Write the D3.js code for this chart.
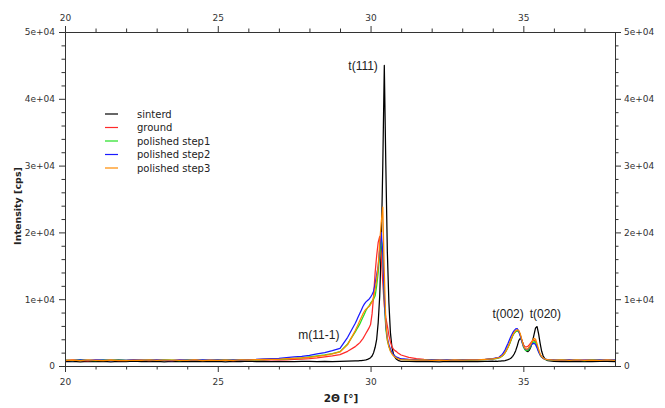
<!DOCTYPE html>
<html>
<head>
<meta charset="utf-8">
<script src="https://cdn.jsdelivr.net/npm/d3@7"></script>
<style>
body { margin: 0; background: #fff; }
svg text { font-family: "DejaVu Sans", Verdana, sans-serif; }
</style>
</head>
<body>
<div class="chart"></div>
<script>
// 2theta positions (coarse on flat baseline, fine around the peaks)
var twoTheta = [
    20,20.25,20.5,20.75,21,21.25,21.5,21.75,22,22.25,
    22.5,22.75,23,23.25,23.5,23.75,24,24.25,24.5,24.75,
    25,25.25,25.5,25.75,26,26.25,26.5,26.75,27,27.25,
    27.5,27.75,28,28.25,28.5,28.75,29,29.25,29.5,
    29.55,29.6,29.65,29.7,29.75,29.8,29.85,29.9,29.95,30,
    30.05,30.1,30.15,30.2,30.25,30.3,30.35,30.4,30.45,30.5,
    30.55,30.6,30.65,30.7,30.75,30.8,30.85,30.9,30.95,31,
    31.25,31.5,31.75,32,32.25,32.5,32.75,33,33.25,33.5,33.75,34,
    34.05,34.1,34.15,34.2,34.25,34.3,34.35,34.4,34.45,34.5,
    34.55,34.6,34.65,34.7,34.75,34.8,34.85,34.9,34.95,35,
    35.05,35.1,35.15,35.2,35.25,35.3,35.35,35.4,35.45,35.5,
    35.55,35.6,35.65,35.7,35.75,35.8,
    36,36.25,36.5,36.75,37,37.25,37.5,37.75,38
];

var sinterd = [
    650,700,620,680,640,710,630,690,650,720,
    640,670,700,630,680,650,710,640,690,660,
    700,630,680,650,720,660,690,640,700,670,
    650,710,680,640,700,660,690,720,750,
    760,780,800,820,850,880,920,980,1100,1250,
    1500,2000,2800,4000,6500,10500,18000,30000,45000,30000,
    17000,9500,5000,2800,1800,1300,1000,850,760,700,
    680,640,700,650,620,690,660,640,700,650,680,720,
    700,720,700,740,720,760,780,820,880,950,
    1050,1200,1450,1800,2300,3000,3800,4150,3900,3200,
    2600,2250,2150,2400,2900,3700,4700,5700,5900,4800,
    3400,2200,1500,1100,900,800,
    700,660,690,640,700,650,680,710,660
];

var ground = [
    820,900,850,780,880,830,910,800,860,840,
    900,820,870,850,790,880,840,910,830,870,
    850,900,820,880,860,900,870,920,950,930,
    980,1030,1100,1200,1350,1500,1700,2200,2900,
    3100,3300,3500,3800,4100,4500,4900,5300,5700,6200,
    7800,10500,14000,16500,18500,19400,16500,12500,9000,7200,
    6000,4600,3600,2900,2500,2300,2150,1950,1800,1650,
    1300,1100,1000,950,900,880,860,900,870,920,950,1050,
    1100,1150,1200,1250,1350,1500,1700,2000,2400,2850,
    3350,3950,4550,4950,5200,5300,5200,4700,3900,3200,
    2900,2850,2950,3200,3500,3800,3900,3700,3000,2300,
    1700,1350,1150,1050,980,940,
    880,840,900,830,870,910,850,880,860
];

var step1 = [
    880,820,940,860,800,910,850,950,830,890,
    860,920,840,900,870,820,930,860,890,850,
    910,870,900,880,940,920,960,1000,1000,1080,
    1150,1220,1350,1500,1650,1850,2150,3300,5100,
    5500,5900,6300,6800,7300,7800,8300,8700,9000,9400,
    9700,10000,10500,12000,14000,16500,18900,17000,10000,5500,
    3800,2900,2300,1900,1600,1400,1250,1150,1080,1000,
    950,900,870,920,850,890,860,900,880,930,960,1050,
    1050,1100,1150,1200,1300,1450,1650,1950,2350,2800,
    3300,3900,4500,4900,5150,5250,5150,4600,3700,2900,
    2450,2300,2350,2600,3000,3400,3650,3500,2900,2200,
    1650,1300,1150,1020,960,920,
    860,900,840,880,820,900,870,840,890
];

var step2 = [
    860,800,900,840,920,870,810,890,850,940,
    830,880,900,860,820,910,870,850,930,880,
    900,860,920,890,950,980,1050,1100,1150,1250,
    1350,1450,1600,1800,2000,2300,2650,4300,6400,
    6900,7400,7900,8400,8900,9300,9600,9800,10000,10300,
    10700,11200,12300,13700,15000,17500,20000,17000,10500,6000,
    4200,3200,2500,2000,1700,1500,1350,1250,1150,1100,
    1000,930,880,900,870,920,880,910,940,960,1000,1100,
    1150,1200,1250,1300,1500,1700,2000,2400,2900,3400,
    3950,4500,4950,5300,5550,5600,5200,4500,3700,3000,
    2600,2450,2550,2800,3100,3350,3400,3200,2700,2100,
    1650,1350,1150,1050,1000,950,
    900,850,920,860,890,840,930,870,900
];

var step3 = [
    840,880,810,900,850,820,890,860,800,880,
    850,910,830,870,890,840,860,900,820,880,
    860,890,850,900,920,940,980,1000,1000,1100,
    1150,1220,1300,1450,1600,1800,2100,3200,5300,
    5800,6300,6800,7300,7800,8200,8500,8700,8900,9200,
    9600,10300,11500,13000,15000,18500,21500,23800,14000,6500,
    4000,2900,2200,1800,1500,1350,1200,1100,1000,950,
    920,880,900,850,880,860,900,870,910,900,980,1050,
    1100,1150,1200,1250,1350,1500,1700,2000,2400,2850,
    3400,4000,4600,5000,5300,5400,5350,4800,3900,3100,
    2650,2500,2600,2900,3300,3800,4150,4000,3300,2500,
    1800,1400,1200,1050,980,950,
    870,910,850,900,840,880,860,910,850
];

var seriesNames = ["sinterd", "ground", "polished step1", "polished step2", "polished step3"];
var seriesColors = ["#000000", "#ff2a2a", "#22e022", "#1a1aff", "#ff8a00"];
var seriesValues = [sinterd, ground, step1, step2, step3];

var xMajor = [20, 25, 30, 35];
var yTicks = [0, 10000, 20000, 30000, 40000, 50000];
var yTickLabels = ["0", "1e+04", "2e+04", "3e+04", "4e+04", "5e+04"];

var peakLabels = ["t(111)", "m(11-1)", "t(002)", "t(020)"];
var peakX = [30.24, 28.31, 34.5, 35.72];
var peakY = [44300, 4000, 7200, 7200];

// Configuration
var width = 665;
var height = 408;
var plotLeft = 65, plotRight = 615, plotTop = 32, plotBottom = 366;
var axisColor = "#333";

var svg = d3.select(".chart").append("svg")
    .attr("width", width)
    .attr("height", height);

var x = d3.scaleLinear().domain([20, 38]).range([plotLeft, plotRight]);
var y = d3.scaleLinear().domain([0, 50000]).range([plotBottom, plotTop]);

var xMinor = d3.range(21, 38).filter(function(d) { return xMajor.indexOf(d) < 0; });
var yMinor = d3.range(2000, 50000, 2000).filter(function(d) { return d % 10000 != 0; });

// clip for the curves
svg.append("defs").append("clipPath")
    .attr("id", "plot")
    .append("rect")
    .attr("x", plotLeft).attr("y", plotTop)
    .attr("width", plotRight - plotLeft).attr("height", plotBottom - plotTop);

// curves
var line = d3.line()
    .x(function(d) { return x(d[0]); })
    .y(function(d) { return y(d[1]); });

svg.append("g")
    .attr("clip-path", "url(#plot)")
    .selectAll("path")
    .data(seriesValues)
    .enter().append("path")
    .attr("fill", "none")
    .attr("stroke", function(d, i) { return seriesColors[i]; })
    .attr("stroke-width", 1.25)
    .attr("stroke-linejoin", "round")
    .attr("d", function(vals) {
        return line(twoTheta.map(function(t, j) { return [t, vals[j]]; }));
    });

// axes
function styleAxis(g) {
    g.selectAll(".domain").attr("stroke", axisColor);
    g.selectAll(".tick line").attr("stroke", axisColor);
    g.selectAll(".tick text")
        .attr("fill", "#333")
        .style("font-size", "9px")
        .style("font-family", "'DejaVu Sans', Verdana, sans-serif");
}

function addAxis(axisFn, scale, major, minor, labels, pos, pad) {
    var g = svg.append("g").attr("transform", pos);
    g.call(axisFn(scale).tickValues(minor).tickSize(3.5).tickSizeOuter(0).tickFormat(""));
    var g2 = svg.append("g").attr("transform", pos);
    g2.call(axisFn(scale).tickValues(major).tickSize(6).tickSizeOuter(0).tickPadding(pad)
        .tickFormat(function(d, i) { return labels ? labels[i] : d; }));
    styleAxis(g);
    styleAxis(g2);
}

addAxis(d3.axisBottom, x, xMajor, xMinor, null, "translate(0," + plotBottom + ")", 7);
addAxis(d3.axisTop, x, xMajor, xMinor, null, "translate(0," + plotTop + ")", 5);
addAxis(d3.axisLeft, y, yTicks, yMinor, yTickLabels, "translate(" + plotLeft + ",0)", 4);
addAxis(d3.axisRight, y, yTicks, yMinor, yTickLabels, "translate(" + plotRight + ",0)", 3);

// axis titles
svg.append("text")
    .attr("x", 341).attr("y", 402)
    .attr("text-anchor", "middle")
    .style("font-size", "10.5px").style("font-weight", "bold")
    .attr("fill", "#222")
    .text("2\u0398 [\u00b0]");

svg.append("text")
    .attr("transform", "translate(21,206) rotate(-90)")
    .attr("text-anchor", "middle")
    .style("font-size", "9.5px").style("font-weight", "bold")
    .attr("fill", "#222")
    .text("Intensity [cps]");

// peak labels
svg.selectAll("text.peak")
    .data(peakLabels)
    .enter().append("text")
    .attr("class", "peak")
    .attr("x", function(d, i) { return x(peakX[i]); })
    .attr("y", function(d, i) { return y(peakY[i]); })
    .attr("text-anchor", function(d, i) { return i == 0 ? "end" : "middle"; })
    .style("font-family", "'Liberation Sans', Arial, sans-serif")
    .style("font-size", "12px")
    .attr("fill", "#222")
    .text(function(d) { return d; });

// legend
var legend = svg.selectAll("g.legend")
    .data(seriesNames)
    .enter().append("g")
    .attr("class", "legend")
    .attr("transform", function(d, i) { return "translate(105," + (114 + i * 13.5) + ")"; });

legend.append("line")
    .attr("x1", 0).attr("x2", 13)
    .attr("stroke", function(d, i) { return seriesColors[i]; })
    .attr("stroke-width", 1.2);

legend.append("text")
    .attr("x", 32).attr("y", 3.5)
    .style("font-size", "10px")
    .attr("fill", "#222")
    .text(function(d) { return d; });
</script>
</body>
</html>
